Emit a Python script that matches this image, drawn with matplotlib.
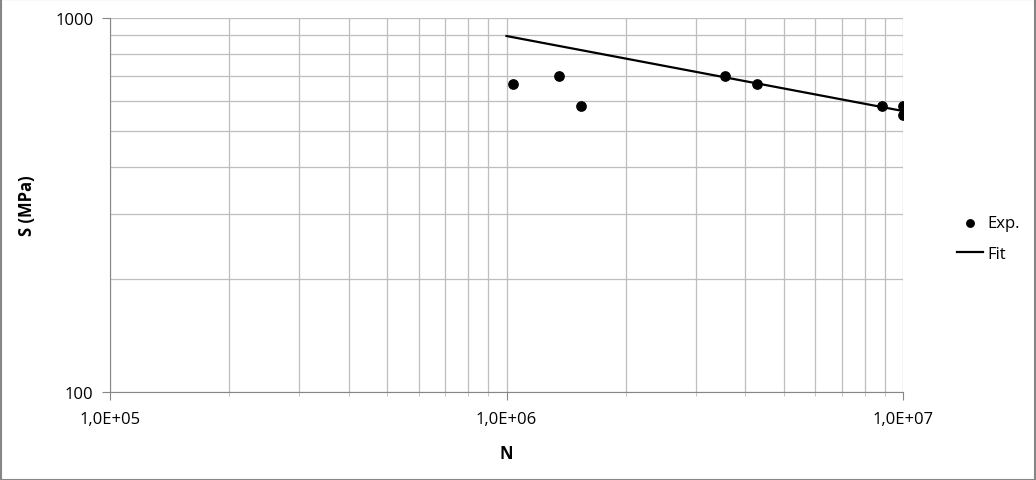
import numpy as np
import matplotlib.pyplot as plt
from matplotlib.ticker import FixedLocator, NullFormatter, FixedFormatter

# experimental points
n_exp = [1.04e6, 1.36e6, 1.54e6, 3.56e6, 4.28e6, 8.85e6, 1.0e7, 1.0e7]
s_exp = [667, 700, 581, 700, 667, 581, 581, 550]

# fitted curve end points
n_fit = [1.0e6, 1.0e7]
s_fit = [895, 564]

x_ticks = [1e5, 1e6, 1e7]
x_labels = ['1,0E+05', '1,0E+06', '1,0E+07']
y_ticks = [100, 1000]
y_labels = ['100', '1000']

plt.rcParams['font.family'] = ['Open Sans', 'DejaVu Sans']

fig = plt.figure(figsize=(10.36, 4.81), dpi=100)
ax = fig.add_axes([110/1036, 1-393/481, 793/1036, 374/481])

ax.set_xscale('log')
ax.set_yscale('log')
ax.set_xlim(1e5, 1e7)
ax.set_ylim(100, 1000)

ax.scatter(n_exp, s_exp, s=45, color='black', zorder=3, label='Exp.')
ax.plot(n_fit, s_fit, color='black', lw=1.6, zorder=3, label='Fit')

ax.xaxis.set_major_locator(FixedLocator(x_ticks))
ax.xaxis.set_major_formatter(FixedFormatter(x_labels))
ax.yaxis.set_major_locator(FixedLocator(y_ticks))
ax.yaxis.set_major_formatter(FixedFormatter(y_labels))
ax.xaxis.set_minor_formatter(NullFormatter())
ax.yaxis.set_minor_formatter(NullFormatter())

ax.grid(True, which='both', color='#BEBEBE', lw=0.9)
ax.set_axisbelow(True)
for side in ['top', 'right']:
    ax.spines[side].set_visible(False)
for side in ['left', 'bottom']:
    ax.spines[side].set_color('#868686')
ax.tick_params(which='major', length=6, color='#868686', labelsize=12, pad=8)
ax.tick_params(axis='y', which='major', pad=6)
ax.tick_params(which='minor', length=3, color='#BEBEBE')
ax.tick_params(axis='y', which='minor', length=0)

ax.set_xlabel('N', fontsize=12, fontweight='bold', labelpad=12)
ax.set_ylabel('S (MPa)', fontsize=12, fontweight='bold', labelpad=14)

ax.legend(loc='center left', bbox_to_anchor=(1.068, 0.41), frameon=False,
          fontsize=12, handlelength=1.56, handletextpad=0.25, labelspacing=0.9,
          borderpad=0, borderaxespad=0, markerscale=0.8)

fig.patches.append(plt.Rectangle((0.0005, 0.001), 0.999, 0.998, transform=fig.transFigure,
                                 fill=False, edgecolor='#868686', lw=1.5))

fig.savefig('out.png', dpi=100)
